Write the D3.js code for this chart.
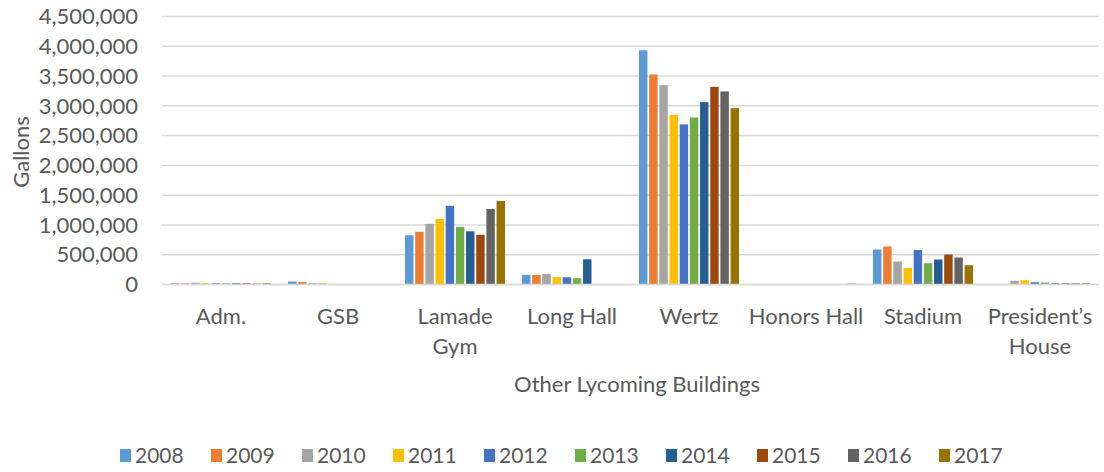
<!DOCTYPE html>
<html>
<head>
<meta charset="utf-8">
<script src="https://cdn.jsdelivr.net/npm/d3@7"></script>
<style>
  html, body { margin: 0; padding: 0; background: #fff; }
  svg { display: block; }
</style>
</head>
<body>
<svg id="chart"></svg>
<script>
const buildings = ['Adm.', 'GSB', 'Lamade Gym', 'Long Hall', 'Wertz', 'Honors Hall', 'Stadium', 'President\u2019s House'];
const years = ['2008', '2009', '2010', '2011', '2012', '2013', '2014', '2015', '2016', '2017'];
const colors = ['#5B9BD5', '#ED7D31', '#A5A5A5', '#FFC000', '#4472C4', '#70AD47', '#255E91', '#9E480E', '#636363', '#997300'];
const yTicks = [0, 500000, 1000000, 1500000, 2000000, 2500000, 3000000, 3500000, 4000000, 4500000];

// gallons per building, one list per year (same order as buildings)
const gal2008 = [20000, 50000, 826000, 164000, 3934000, 0, 587000, 0];
const gal2009 = [20000, 40000, 886000, 159000, 3527000, 0, 638000, 0];
const gal2010 = [30000, 20000, 1020000, 176000, 3347000, 0, 386000, 62000];
const gal2011 = [20000, 20000, 1099000, 126000, 2849000, 0, 277000, 72000];
const gal2012 = [20000, 0, 1322000, 121000, 2688000, 0, 579000, 38000];
const gal2013 = [20000, 0, 965000, 104000, 2805000, 0, 357000, 33000];
const gal2014 = [20000, 0, 893000, 423000, 3062000, 0, 419000, 20000];
const gal2015 = [20000, 0, 836000, 0, 3319000, 0, 503000, 20000];
const gal2016 = [15000, 0, 1267000, 0, 3242000, 0, 453000, 20000];
const gal2017 = [20000, 0, 1401000, 0, 2961000, 15000, 324000, 20000];
const series = [gal2008, gal2009, gal2010, gal2011, gal2012, gal2013, gal2014, gal2015, gal2016, gal2017];

const width = 1104;
const height = 472;
const font = 'Lato, "Open Sans", sans-serif';
const textColor = '#595959';
const gridColor = '#D9D9D9';

const svg = d3.select('#chart').attr('width', width).attr('height', height);

const x0 = d3.scaleBand()
  .domain(buildings)
  .range([162.5, 1098.5])
  .paddingInner(0.145)
  .paddingOuter(0.0725);

const x1 = d3.scaleBand()
  .domain(years)
  .range([0, x0.bandwidth()])
  .paddingInner(0.17);

const y = d3.scaleLinear().domain([0, 4500000]).range([284.5, 16.5]);

// gridlines
svg.append('g')
  .selectAll('line')
  .data(yTicks)
  .join('line')
  .attr('x1', 162)
  .attr('x2', 1099)
  .attr('y1', (d) => y(d))
  .attr('y2', (d) => y(d))
  .attr('stroke', gridColor)
  .attr('stroke-width', 1.5);

// y tick labels
svg.append('g')
  .selectAll('text')
  .data(yTicks)
  .join('text')
  .attr('x', 138)
  .attr('y', (d) => y(d))
  .attr('dy', '0.35em')
  .attr('text-anchor', 'end')
  .attr('font-family', font)
  .attr('font-size', '22px')
  .attr('fill', textColor)
  .text((d) => d3.format(',')(d));

// bars
const rows = buildings.map((b, i) => ({
  building: b,
  values: years.map((yr, j) => ({ year: yr, value: series[j][i], color: colors[j] })),
}));

svg.append('g')
  .selectAll('g')
  .data(rows)
  .join('g')
  .attr('transform', (d) => `translate(${x0(d.building)},0)`)
  .selectAll('rect')
  .data((d) => d.values)
  .join('rect')
  .attr('x', (d) => x1(d.year))
  .attr('width', x1.bandwidth())
  .attr('y', (d) => y(d.value))
  .attr('height', (d) => y(0) - y(d.value))
  .attr('fill', (d) => d.color);

// baseline
svg.append('line')
  .attr('x1', 162)
  .attr('x2', 1099)
  .attr('y1', y(0))
  .attr('y2', y(0))
  .attr('stroke', gridColor)
  .attr('stroke-width', 1.5);

// category labels, wrapped to the band width
const catLabels = svg.append('g')
  .selectAll('text')
  .data(buildings)
  .join('text')
  .attr('x', (d) => x0(d) + x0.bandwidth() / 2)
  .attr('y', 324)
  .attr('text-anchor', 'middle')
  .attr('font-family', font)
  .attr('font-size', '22px')
  .attr('fill', textColor);

catLabels.each(function (d) {
  const t = d3.select(this);
  const words = d.split(' ');
  let line = [];
  let tspan = t.append('tspan').attr('x', t.attr('x')).attr('dy', 0);
  words.forEach((w) => {
    line.push(w);
    tspan.text(line.join(' '));
    if (tspan.node().getComputedTextLength() > 117 && line.length > 1) {
      line.pop();
      tspan.text(line.join(' '));
      line = [w];
      tspan = t.append('tspan').attr('x', t.attr('x')).attr('dy', '1.36em').text(w);
    }
  });
});

// axis titles
svg.append('text')
  .attr('transform', 'translate(21,152) rotate(-90)')
  .attr('dy', '0.35em')
  .attr('text-anchor', 'middle')
  .attr('font-family', font)
  .attr('font-size', '22px')
  .attr('fill', textColor)
  .text('Gallons');

svg.append('text')
  .attr('x', 637)
  .attr('y', 392)
  .attr('text-anchor', 'middle')
  .attr('font-family', font)
  .attr('font-size', '22px')
  .attr('fill', textColor)
  .text('Other Lycoming Buildings');

// legend
const legendX = d3.scaleBand().domain(years).range([120, 1030]);

const legend = svg.append('g')
  .selectAll('g')
  .data(years)
  .join('g')
  .attr('transform', (d) => `translate(${legendX(d)},456)`);

legend.append('rect')
  .attr('x', 0)
  .attr('y', -7)
  .attr('width', 11)
  .attr('height', 13)
  .attr('fill', (d, i) => colors[i]);

legend.append('text')
  .attr('x', 15)
  .attr('y', 0)
  .attr('dy', '0.35em')
  .attr('font-family', font)
  .attr('font-size', '21px')
  .attr('fill', textColor)
  .text((d) => d);
</script>
</body>
</html>
